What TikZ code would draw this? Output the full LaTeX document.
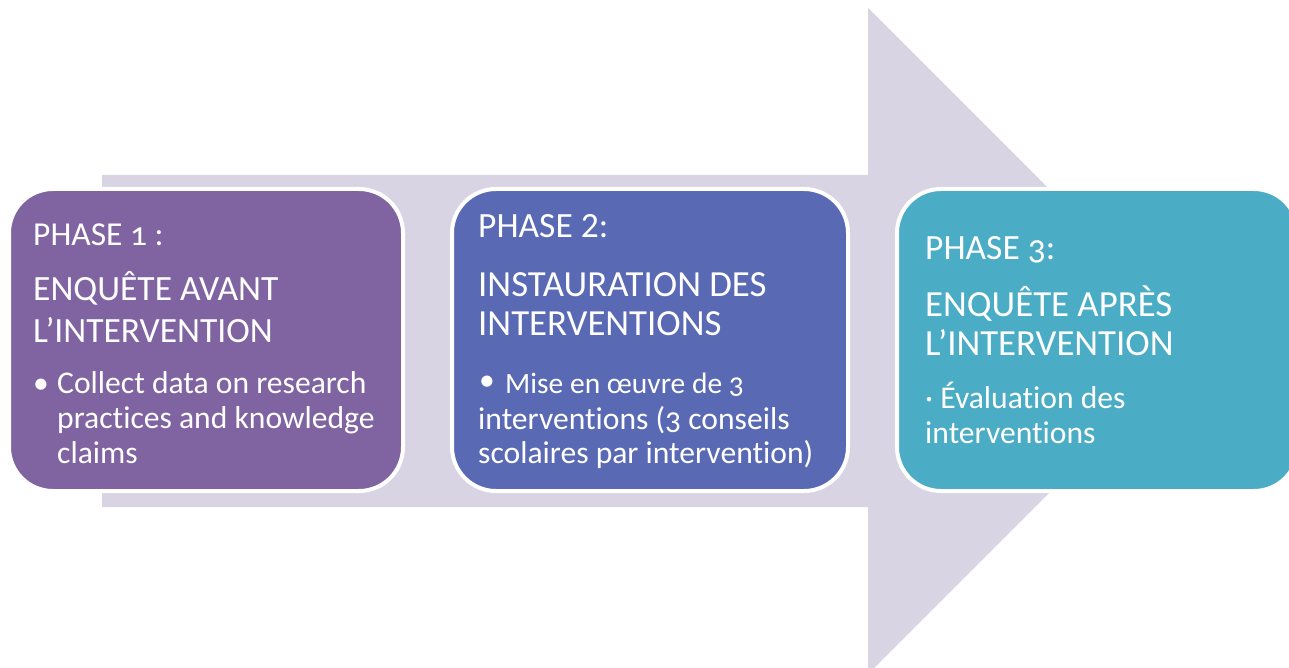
\documentclass[tikz,border=0pt]{standalone}
\usepackage{fontspec}
\setmainfont{Carlito}[Numbers=OldStyle,Ligatures=NoCommon]
\definecolor{arrowc}{HTML}{D8D4E3}
\definecolor{boxa}{HTML}{8064A2}
\definecolor{boxb}{HTML}{5A69B4}
\definecolor{boxc}{HTML}{4BACC6}
\tikzset{
  phasebox/.style={draw=white, line width=4pt, rounded corners=44pt},
  txt/.style={anchor=base west, inner sep=0pt, text=white},
  head/.style={txt, font=\fontsize{33.5}{38}\selectfont},
  headb/.style={txt, font=\fontsize{35.5}{40}\selectfont},
  title/.style={txt, font=\fontsize{35.5}{40}\selectfont},
  titleb/.style={txt, font=\fontsize{36.8}{42}\selectfont},
  body/.style={txt, font=\fontsize{31.6}{36}\selectfont},
}
\begin{document}
\begin{tikzpicture}[x=1pt,y=-1pt]
\useasboundingbox (0,0) rectangle (1289,668);
\begin{scope}
\clip (0,0) rectangle (1289,668);
% big arrow
\fill[arrowc] (102,175) -- (868,175) -- (868,8) -- (1201,341) -- (868,674) -- (868,507) -- (102,507) -- cycle;
% boxes
\path[phasebox, fill=boxa] (9,189) rectangle (403,491);
\path[phasebox, fill=boxb] (452,189) rectangle (848,491);
\path[phasebox, fill=boxc] (897,189) rectangle (1298,491);
\end{scope}
% box 1 text
\node[head] (p1) at (33,245) {PHASE 1 :};
\node[title] (t1a) at (33,300) {ENQUÊTE AVANT};
\node[title] (t1b) at (33,342) {L’INTERVENTION};
\node[body] (b1bul) at (33,393) {•};
\node[body] (b1a) at (57,393) {Collect data on research};
\node[body] (b1b) at (57,428) {practices and knowledge};
\node[body] (b1c) at (57,463) {claims};
% box 2 text
\node[headb] (p2) at (478,238) {\addfontfeatures{Numbers=Lining}PHASE 2:};
\node[titleb] (t2a) at (478,296) {INSTAURATION DES};
\node[titleb] (t2b) at (478,335) {INTERVENTIONS};
\node[body] (b2bul) at (479,390) {•};
\node[body, font=\fontsize{29.5}{34}\selectfont] (b2a) at (505,393) {Mise en œuvre de 3};
\node[body] (b2b) at (478,429) {interventions (3 conseils};
\node[body] (b2c) at (478,463) {scolaires par intervention)};
% box 3 text
\node[headb] (p3) at (925,259) {PHASE 3:};
\node[titleb] (t3a) at (925,316) {ENQUÊTE APRÈS};
\node[titleb] (t3b) at (925,355) {L’INTERVENTION};
\node[body] (b3a) at (925,408) {· Évaluation des};
\node[body] (b3b) at (925,443) {interventions};
\end{tikzpicture}
\end{document}
